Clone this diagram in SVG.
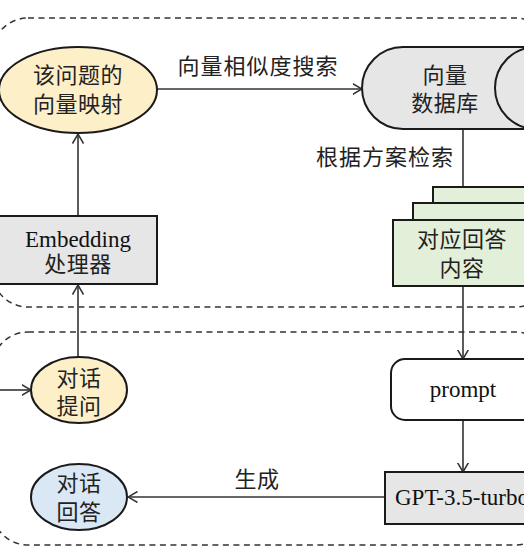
<svg xmlns="http://www.w3.org/2000/svg" width="524" height="556" viewBox="0 0 524 556">
<style>
.zh{font-family:"Noto Sans CJK SC","Noto Sans",sans-serif;font-size:22px;fill:#222;text-anchor:middle;letter-spacing:0.5px}
.en{font-family:"Liberation Serif","Times New Roman",serif;font-size:23px;fill:#111;text-anchor:middle}
.node{stroke:#1a1a1a;stroke-width:2}
.dash{fill:none;stroke:#333;stroke-width:1.5;stroke-dasharray:6 4.5}
.conn{fill:none;stroke:#333;stroke-width:1.6}
</style>
<defs>
<marker id="arr" viewBox="0 0 10 12" refX="9.5" refY="6" markerWidth="10" markerHeight="12" markerUnits="userSpaceOnUse" orient="auto">
<path d="M0,0.5 L9.5,6 L0,11.5" fill="none" stroke="#333" stroke-width="1.5"/>
</marker>
</defs>
<rect width="524" height="556" fill="#fff"/>
<g id="groups">
<rect class="dash" x="-8" y="18" width="560" height="289" rx="36"/>
<rect class="dash" x="-8" y="332" width="560" height="213" rx="36"/>
</g>
<g id="connectors">
<line class="conn" x1="78" y1="216" x2="78" y2="134" marker-end="url(#arr)"/>
<line class="conn" x1="157" y1="89" x2="362" y2="89" marker-end="url(#arr)"/>
<line class="conn" x1="463" y1="129" x2="463" y2="220" marker-end="url(#arr)"/>
<line class="conn" x1="463" y1="286" x2="463" y2="359" marker-end="url(#arr)"/>
<line class="conn" x1="463" y1="420" x2="463" y2="472" marker-end="url(#arr)"/>
<line class="conn" x1="385" y1="497" x2="128" y2="497" marker-end="url(#arr)"/>
<line class="conn" x1="0" y1="390" x2="31" y2="390" marker-end="url(#arr)"/>
<line class="conn" x1="78" y1="357" x2="78" y2="285" marker-end="url(#arr)"/>
<text class="zh" x="258" y="74" style="letter-spacing:1px">向量相似度搜索</text>
<text class="zh" x="385" y="165" style="letter-spacing:1px">根据方案检索</text>
<text class="zh" x="257" y="487">生成</text>
</g>
<g id="n-mapping">
<ellipse class="node" cx="78" cy="90" rx="79" ry="43" fill="#fdefc8"/>
<text class="zh" x="78" y="83">该问题的</text>
<text class="zh" x="78" y="112">向量映射</text>
</g>
<g id="n-embedding">
<rect class="node" x="-2" y="216" width="159" height="68" fill="#e6e6e6"/>
<text class="en" x="78" y="247">Embedding</text>
<text class="zh" x="78" y="272">处理器</text>
</g>
<g id="n-db">
<path class="node" d="M403,47 L540,47 L540,129 L403,129 A41,41 0 0 1 403,47 Z" fill="#e6e6e6"/>
<ellipse class="node" cx="536" cy="88" rx="41" ry="41" fill="#e6e6e6"/>
<text class="zh" x="445" y="83">向量</text>
<text class="zh" x="445" y="111">数据库</text>
</g>
<g id="n-answer-content">
<rect class="node" x="433" y="187" width="110" height="60" fill="#e2efd9"/>
<rect class="node" x="413" y="203" width="130" height="60" fill="#e2efd9"/>
<rect class="node" x="393" y="220" width="150" height="66" fill="#e2efd9"/>
<text class="zh" x="462" y="247">对应回答</text>
<text class="zh" x="462" y="276">内容</text>
</g>
<g id="n-prompt">
<rect class="node" x="391" y="359" width="160" height="61" rx="14" fill="#fff"/>
<text class="en" x="463" y="397">prompt</text>
</g>
<g id="n-gpt">
<rect class="node" x="385" y="472" width="160" height="52" fill="#e6e6e6"/>
<text class="en" x="395" y="505" style="text-anchor:start">GPT-3.5-turbo</text>
</g>
<g id="n-question">
<ellipse class="node" cx="79" cy="390" rx="48" ry="33" fill="#fdefc8"/>
<text class="zh" x="79" y="386">对话</text>
<text class="zh" x="79" y="414">提问</text>
</g>
<g id="n-reply">
<ellipse class="node" cx="79" cy="497" rx="48" ry="33" fill="#dae7f4"/>
<text class="zh" x="79" y="491">对话</text>
<text class="zh" x="79" y="520">回答</text>
</g>
</svg>
